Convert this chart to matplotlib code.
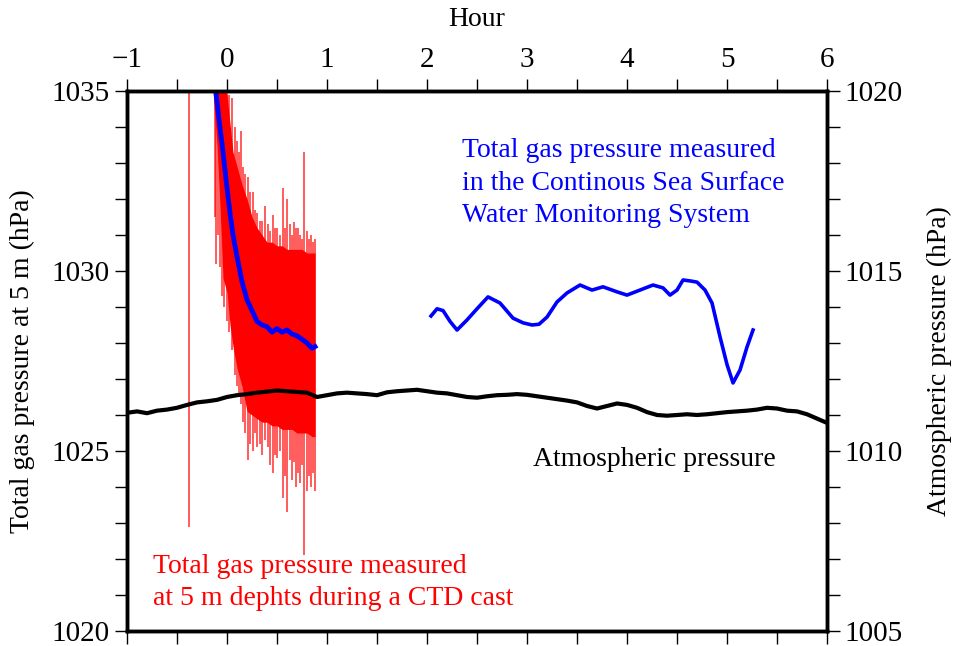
import matplotlib
matplotlib.use('Agg')
import matplotlib.pyplot as plt
import numpy as np

plt.rcParams['font.family'] = ['Liberation Serif', 'DejaVu Serif']

# CTD cast (red): dense band envelope, hours and hPa
ctd_hour = [-0.14, -0.10, -0.07, -0.04, 0.0, 0.03, 0.06, 0.10, 0.15, 0.20, 0.25, 0.30,
            0.35, 0.40, 0.45, 0.50, 0.55, 0.60, 0.65, 0.70, 0.75, 0.80, 0.85, 0.88]
ctd_upper = [1035.4, 1035.3, 1035.2, 1035.1, 1034.9, 1034.1, 1033.3, 1032.9, 1032.4, 1032.0,
             1031.5, 1031.2, 1031.0, 1030.8, 1030.8, 1030.7, 1030.7, 1030.6, 1030.6, 1030.6,
             1030.6, 1030.5, 1030.5, 1030.5]
ctd_lower = [1035.0, 1033.5, 1031.8, 1029.8, 1029.4, 1028.5, 1027.9, 1027.3, 1026.8, 1026.1,
             1026.0, 1025.9, 1025.8, 1025.8, 1025.7, 1025.7, 1025.6, 1025.6, 1025.6, 1025.5,
             1025.5, 1025.5, 1025.4, 1025.4]

# individual spikes of the cast record: hour, lowest and highest value
spike_hour = [-0.38, -0.12, -0.11, -0.09, -0.07, -0.05, -0.03, 0.0, 0.02, 0.05, 0.08, 0.10,
              0.12, 0.14, 0.16, 0.18, 0.21, 0.23, 0.26, 0.28, 0.30, 0.33, 0.35, 0.38, 0.41,
              0.43, 0.46, 0.48, 0.50, 0.53, 0.56, 0.58, 0.60, 0.63, 0.65, 0.67, 0.69, 0.71,
              0.73, 0.75, 0.77, 0.80, 0.82, 0.84, 0.86, 0.88]
spike_low = [1022.9, 1031.5, 1030.2, 1031.0, 1030.1, 1029.3, 1029.0, 1028.6, 1028.3, 1027.8,
             1027.1, 1026.8, 1026.6, 1026.3, 1025.8, 1025.5, 1024.75, 1025.2, 1025.0, 1025.5,
             1025.1, 1025.2, 1024.9, 1025.3, 1025.1, 1024.6, 1024.4, 1024.9, 1024.8, 1025.0,
             1023.7, 1024.3, 1023.3, 1024.75, 1024.2, 1024.7, 1024.0, 1024.4, 1024.1, 1024.6,
             1022.1, 1023.9, 1024.3, 1024.0, 1024.4, 1023.9]
spike_high = [1035.5, 1035.5, 1035.5, 1035.5, 1035.5, 1035.3, 1035.0, 1035.2, 1034.9, 1034.8,
              1034.0, 1033.6, 1033.3, 1033.9, 1032.9, 1032.7, 1032.6, 1032.2, 1032.2, 1031.7,
              1031.6, 1031.4, 1031.4, 1031.8, 1031.3, 1031.1, 1031.55, 1031.2, 1031.2, 1031.0,
              1032.3, 1031.2, 1032.0, 1031.3, 1031.0, 1031.35, 1031.2, 1031.2, 1031.0, 1030.9,
              1033.3, 1031.1, 1030.9, 1031.0, 1030.8, 1030.9]

# blue line during the cast
ctd_blue_hour = [-0.12, -0.08, -0.04, 0.0, 0.03, 0.06, 0.10, 0.15, 0.20, 0.25, 0.30, 0.35,
                 0.40, 0.45, 0.50, 0.55, 0.60, 0.65, 0.70, 0.75, 0.80, 0.85, 0.88]
ctd_blue_val = [1035.2, 1034.2, 1033.3, 1032.3, 1031.6, 1031.0, 1030.4, 1029.7, 1029.2,
                1028.9, 1028.6, 1028.5, 1028.45, 1028.3, 1028.4, 1028.3, 1028.36, 1028.25,
                1028.2, 1028.1, 1028.0, 1027.85, 1027.9]

# continuous sea surface monitoring system (blue)
sea_hour = [2.04, 2.10, 2.16, 2.23, 2.30, 2.40, 2.50, 2.61, 2.73, 2.86, 2.96, 3.05, 3.12,
            3.20, 3.30, 3.40, 3.53, 3.65, 3.76, 3.90, 4.00, 4.13, 4.26, 4.36, 4.43, 4.50,
            4.56, 4.64, 4.70, 4.78, 4.85, 4.93, 5.00, 5.06, 5.13, 5.20, 5.26]
sea_val = [1028.75, 1028.95, 1028.9, 1028.6, 1028.36, 1028.64, 1028.95, 1029.28, 1029.11,
           1028.69, 1028.56, 1028.5, 1028.52, 1028.72, 1029.14, 1029.39, 1029.61, 1029.47,
           1029.56, 1029.42, 1029.33, 1029.47, 1029.61, 1029.53, 1029.33, 1029.47, 1029.75,
           1029.72, 1029.69, 1029.47, 1029.11, 1028.17, 1027.4, 1026.89, 1027.25, 1027.89,
           1028.36]

# atmospheric pressure (black, right axis)
atm_hour = [-1.0, -0.9, -0.8, -0.7, -0.6, -0.5, -0.4, -0.3, -0.2, -0.1, 0.0, 0.1, 0.2, 0.3,
            0.4, 0.5, 0.6, 0.7, 0.8, 0.9, 1.0, 1.1, 1.2, 1.3, 1.4, 1.5, 1.6, 1.7, 1.8, 1.9,
            2.0, 2.1, 2.2, 2.3, 2.4, 2.5, 2.6, 2.7, 2.8, 2.9, 3.0, 3.1, 3.2, 3.3, 3.4, 3.5,
            3.6, 3.7, 3.8, 3.9, 4.0, 4.1, 4.2, 4.3, 4.4, 4.5, 4.6, 4.7, 4.8, 4.9, 5.0, 5.1,
            5.2, 5.3, 5.4, 5.5, 5.6, 5.7, 5.8, 5.9, 6.0]
atm_val = [1011.06, 1011.1, 1011.05, 1011.12, 1011.15, 1011.2, 1011.28, 1011.35, 1011.38,
           1011.42, 1011.5, 1011.55, 1011.58, 1011.62, 1011.65, 1011.68, 1011.66, 1011.64,
           1011.62, 1011.5, 1011.55, 1011.6, 1011.62, 1011.6, 1011.58, 1011.55, 1011.63,
           1011.66, 1011.68, 1011.7, 1011.66, 1011.62, 1011.6, 1011.55, 1011.5, 1011.48,
           1011.52, 1011.55, 1011.56, 1011.58, 1011.56, 1011.52, 1011.48, 1011.44, 1011.4,
           1011.35, 1011.25, 1011.18, 1011.25, 1011.32, 1011.28, 1011.2, 1011.08, 1011.0,
           1010.98, 1011.0, 1011.02, 1011.0, 1011.02, 1011.05, 1011.08, 1011.1, 1011.12,
           1011.15, 1011.2, 1011.18, 1011.12, 1011.1, 1011.02, 1010.9, 1010.78]

fig = plt.figure(figsize=(9.55, 6.46), dpi=100)
ax = fig.add_axes([0.133, 0.0232, 0.733, 0.836])
ax2 = ax.twinx()

# red CTD cast
ax.fill_between(ctd_hour, ctd_lower, ctd_upper, color='red', lw=0)
ax.vlines(spike_hour, spike_low, spike_high, color='red', lw=1.2, alpha=0.75)
ax.plot(ctd_blue_hour, ctd_blue_val, color='blue', lw=3.5)
ax.plot(sea_hour, sea_val, color='blue', lw=2.6)

ax2.plot(atm_hour, atm_val, color='black', lw=3)

ax.set_xlim(-1, 6)
ax.set_ylim(1020, 1035)
ax2.set_ylim(1005, 1020)

ax.set_xticks(np.arange(-1, 7, 1))
ax.set_xticks(np.arange(-1, 6.5, 0.5), minor=True)
ax.set_yticks([1020, 1025, 1030, 1035])
ax.set_yticks(np.arange(1020, 1036, 1), minor=True)
ax2.set_yticks([1005, 1010, 1015, 1020])
ax2.set_yticks(np.arange(1005, 1021, 1), minor=True)

ax.tick_params(axis='x', which='both', top=True, bottom=True, labeltop=True,
               labelbottom=False, direction='out', length=9, width=1, labelsize=21, pad=4)
ax.tick_params(axis='y', which='both', direction='out', length=9, width=1, labelsize=21)
ax2.tick_params(axis='y', which='both', direction='out', length=9, width=1, labelsize=21)
ax.xaxis.set_label_position('top')

for a in (ax, ax2):
    for s in a.spines.values():
        s.set_linewidth(2.5)

ax.set_xlabel('Hour', fontsize=20, labelpad=15)
ax.set_ylabel('Total gas pressure at 5 m (hPa)', fontsize=20, labelpad=12)
ax2.set_ylabel('Atmospheric pressure (hPa)', fontsize=20, labelpad=17)

ax.text(2.35, 1032.44, 'Total gas pressure measured\nin the Continous Sea Surface\nWater Monitoring System',
        color='blue', fontsize=20, va='center', ha='left', linespacing=1.4)
ax.text(-0.74, 1021.35, 'Total gas pressure measured\nat 5 m dephts during a CTD cast',
        color='red', fontsize=20, va='center', ha='left', linespacing=1.4)
ax.text(3.06, 1024.75, 'Atmospheric pressure', color='black', fontsize=20, va='center', ha='left')

fig.savefig('out.png', dpi=100)
